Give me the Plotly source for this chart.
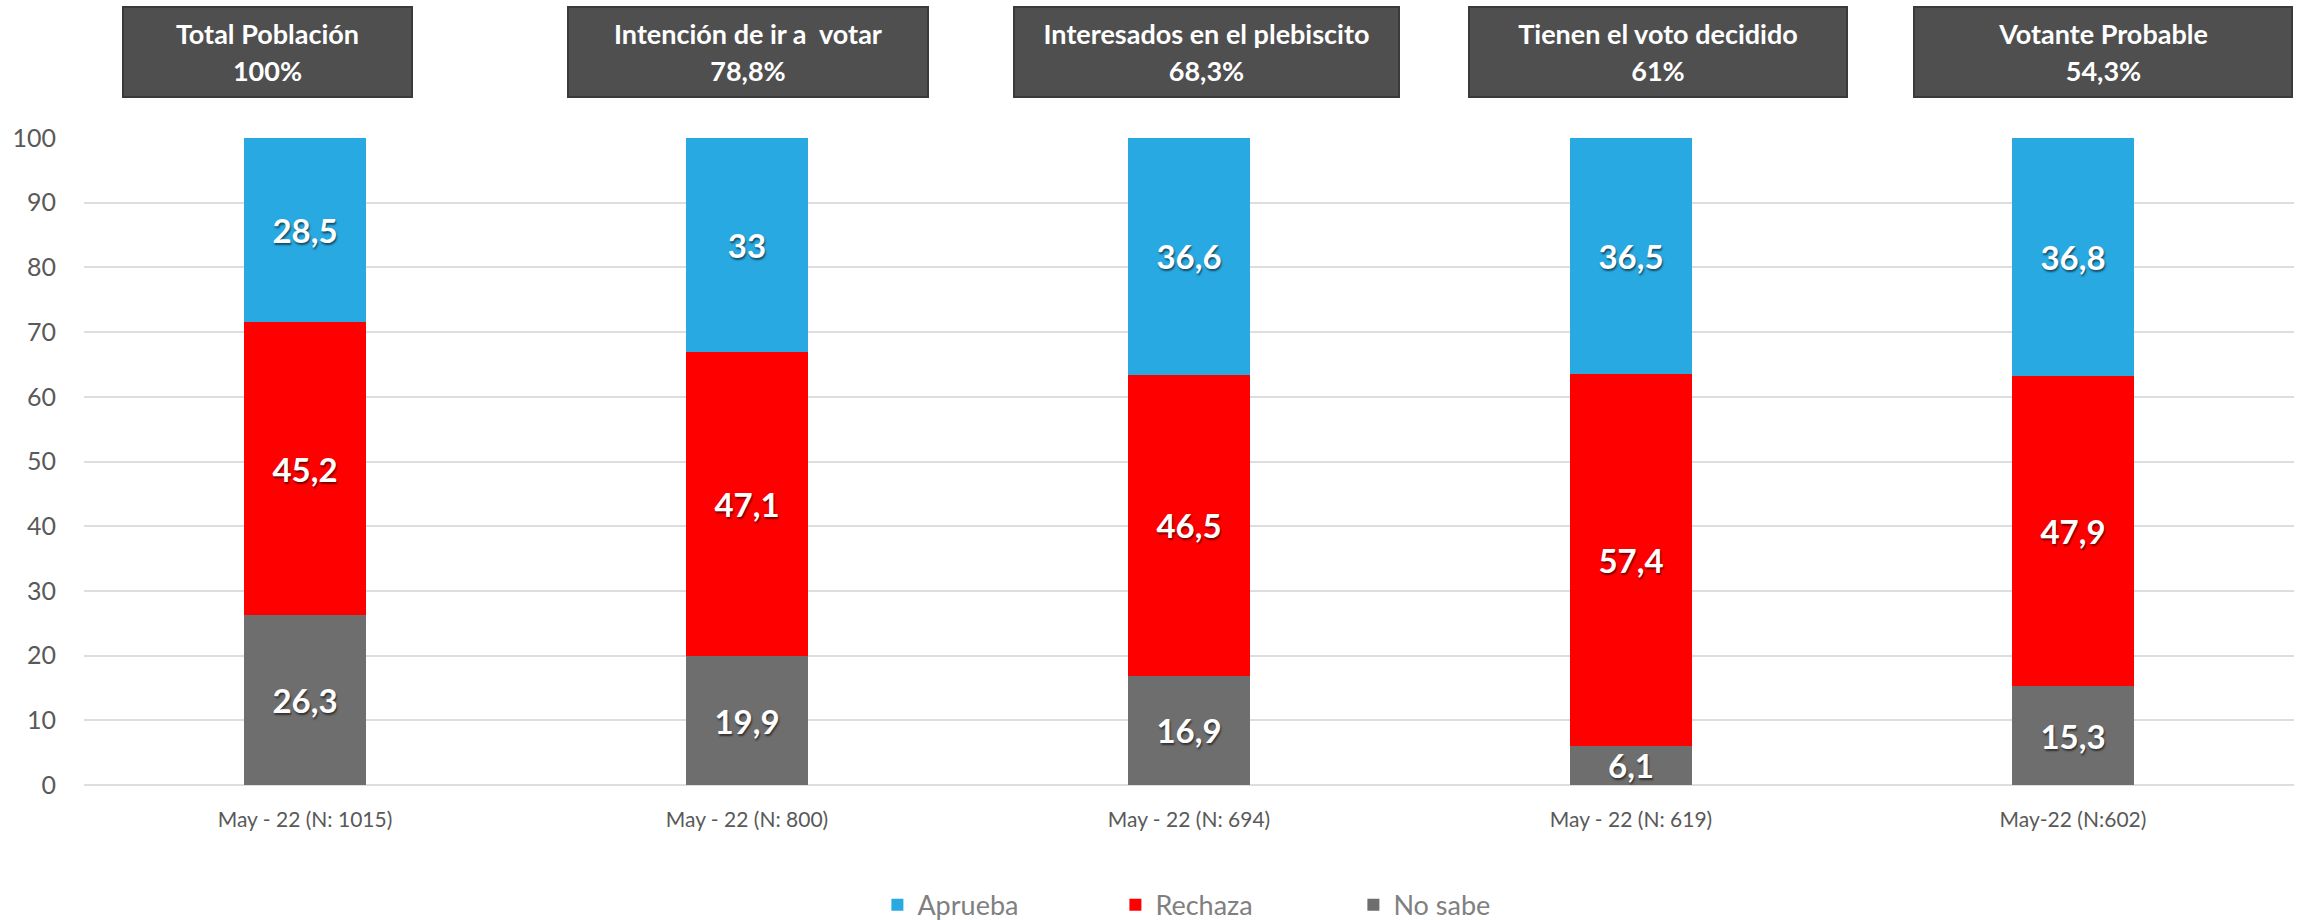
import plotly.graph_objects as go

# Survey waves (x categories)
categories = [
    "May - 22 (N: 1015)",
    "May - 22 (N: 800)",
    "May - 22 (N: 694)",
    "May - 22 (N: 619)",
    "May-22 (N:602)",
]

# Segment values per wave (percent)
aprueba = [28.5, 33, 36.6, 36.5, 36.8]
rechaza = [45.2, 47.1, 46.5, 57.4, 47.9]
no_sabe = [26.3, 19.9, 16.9, 6.1, 15.3]

# Header boxes above each bar
group_names = [
    "Total Población",
    "Intención de ir a  votar",
    "Interesados en el plebiscito",
    "Tienen el voto decidido",
    "Votante Probable",
]
group_shares = ["100%", "78,8%", "68,3%", "61%", "54,3%"]

# Header box geometry (pixels): horizontal offset from bar centre, box width
box_shift = [-38, 1, 17, 27, 30]
box_width = [291, 362, 387, 380, 380]

FONT = "Lato"
BLUE = "#29a9e1"
RED = "#ff0000"
GREY = "#6e6e6e"


def fmt(v):
    return f"{v:g}".replace(".", ",")


fig = go.Figure()
for name, vals, color in [
    ("No sabe", no_sabe, GREY),
    ("Rechaza", rechaza, RED),
    ("Aprueba", aprueba, BLUE),
]:
    fig.add_trace(
        go.Bar(
            x=categories,
            y=vals,
            name=name,
            marker=dict(color=color, line=dict(width=0)),
            text=[fmt(v) for v in vals],
            textposition="inside",
            insidetextanchor="middle",
            textangle=0,
            textfont=dict(
                family=FONT,
                size=33,
                color="white",
                weight="bold",
                shadow="1px 2px 2px rgba(0,0,0,0.55)",
            ),
            hoverinfo="skip",
        )
    )

annotations = []
for cat, title, share, dx, w in zip(categories, group_names, group_shares, box_shift, box_width):
    txt = (
        f'<span style="font-size:27px"><b>{title}</b></span><br>'
        f'<span style="font-size:27px"><b>{share}</b></span>'
    )
    annotations.append(
        dict(
            x=cat,
            xref="x",
            y=1,
            yref="paper",
            xanchor="center",
            yanchor="middle",
            xshift=dx,
            yshift=86,
            text=txt,
            showarrow=False,
            width=w - 4,
            height=88,
            align="center",
            valign="middle",
            bgcolor="#4f4f4f",
            bordercolor="#3a3a3a",
            borderwidth=2,
            borderpad=0,
            font=dict(family=FONT, size=28, color="white"),
        )
    )

fig.update_layout(
    width=2303,
    height=920,
    margin=dict(l=84, r=9, t=138, b=135, autoexpand=False),
    paper_bgcolor="white",
    plot_bgcolor="white",
    barmode="stack",
    bargap=0.722,
    font=dict(family=FONT, color="#595959"),
    annotations=annotations,
    uniformtext=dict(minsize=33, mode="show"),
    showlegend=True,
    legend=dict(
        orientation="h",
        traceorder="reversed",
        x=0.359,
        xanchor="left",
        yref="container",
        y=0.016,
        yanchor="middle",
        font=dict(family=FONT, size=27, color="#808080"),
        entrywidth=193,
        entrywidthmode="pixels",
        bgcolor="rgba(0,0,0,0)",
    ),
    xaxis=dict(
        showgrid=False,
        showline=False,
        tickfont=dict(family=FONT, size=21, color="#595959"),
        ticklabelstandoff=20,
        fixedrange=True,
    ),
    yaxis=dict(
        range=[0, 100],
        dtick=10,
        showgrid=True,
        gridcolor="#dedede",
        gridwidth=2,
        zeroline=True,
        zerolinecolor="#dedede",
        zerolinewidth=2,
        showline=False,
        tickfont=dict(family=FONT, size=25, color="#595959"),
        ticklabelstandoff=27,
        fixedrange=True,
    ),
)

fig.write_html("out.html")
